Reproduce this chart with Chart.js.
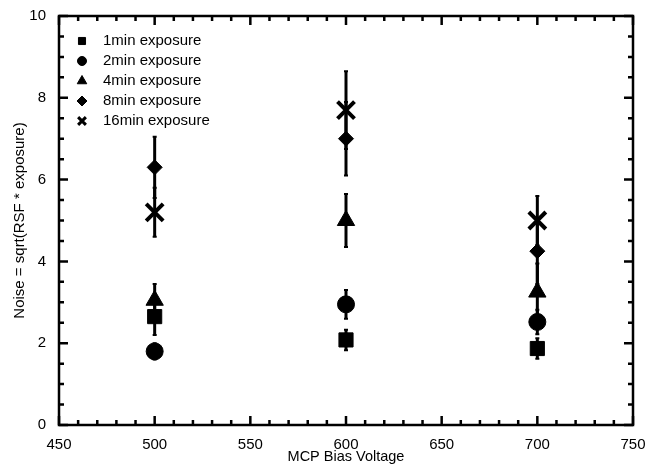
<!DOCTYPE html>
<html>
<head>
<meta charset="utf-8">
<script src="https://cdn.jsdelivr.net/npm/chart.js@4/dist/chart.umd.min.js"></script>
<style>
  html, body { margin: 0; padding: 0; background: #fff; }
  #wrap { width: 649px; height: 466px; }
</style>
</head>
<body>
<div id="wrap"><canvas id="noiseChart"></canvas></div>
<script>
const voltages = [500, 600, 700];
const seriesNames = ["1min exposure", "2min exposure", "4min exposure", "8min exposure", "16min exposure"];
const noise1 = [2.65, 2.08, 1.87];
const noise2 = [1.8, 2.95, 2.52];
const noise4 = [3.05, 5.0, 3.25];
const noise8 = [6.3, 7.0, 4.25];
const noise16 = [5.2, 7.7, 5.0];
const err1 = [0.45, 0.25, 0.25];
const err2 = [0.2, 0.35, 0.3];
const err4 = [0.4, 0.65, 0.7];
const err8 = [0.75, 0.9, 0.8];
const err16 = [0.6, 0.95, 0.6];

const FONT = "'Liberation Sans', Arial, sans-serif";
const styles = ["rect", "circle", "triangle", "rectRot", "crossRot"];
const radii = [10, 8.5, 10, 7.5, 12];
const legendRadii = [5, 4.5, 5.5, 5, 5.5];
const allNoise = [noise1, noise2, noise4, noise8, noise16];
const allErr = [err1, err2, err4, err8, err16];

const datasets = allNoise.map((vals, i) => ({
  label: seriesNames[i],
  data: voltages.map((v, j) => ({ x: v, y: vals[j] })),
  errors: allErr[i],
  pointStyle: styles[i],
  pointRadius: radii[i],
  pointHoverRadius: radii[i],
  backgroundColor: "#000",
  borderColor: "#000",
  borderWidth: i === 4 ? 4 : 1,
  showLine: false,
}));

const errorBars = {
  id: "errorBars",
  beforeDatasetsDraw(chart) {
    const ctx = chart.ctx;
    const x = chart.scales.x;
    const y = chart.scales.y;
    ctx.save();
    ctx.strokeStyle = "#000";
    chart.data.datasets.forEach((ds) => {
      ds.data.forEach((p, j) => {
        const px = x.getPixelForValue(p.x);
        const top = y.getPixelForValue(p.y + ds.errors[j]);
        const bot = y.getPixelForValue(p.y - ds.errors[j]);
        ctx.lineWidth = 3;
        ctx.beginPath();
        ctx.moveTo(px, top);
        ctx.lineTo(px, bot);
        ctx.stroke();
        ctx.lineWidth = 2;
        ctx.beginPath();
        ctx.moveTo(px - 2, top);
        ctx.lineTo(px + 2, top);
        ctx.moveTo(px - 2, bot);
        ctx.lineTo(px + 2, bot);
        ctx.stroke();
      });
    });
    ctx.restore();
  },
};

const frameTicks = {
  id: "frameTicks",
  afterDraw(chart) {
    const ctx = chart.ctx;
    const a = chart.chartArea;
    const x = chart.scales.x;
    const y = chart.scales.y;
    ctx.save();
    ctx.strokeStyle = "#000";
    ctx.lineWidth = 2.5;
    ctx.strokeRect(a.left, a.top, a.right - a.left, a.bottom - a.top);
    ctx.beginPath();
    for (let v = 450; v <= 750; v += 10) {
      const px = x.getPixelForValue(v);
      const len = v % 50 === 0 ? 9 : 5;
      ctx.moveTo(px, a.bottom);
      ctx.lineTo(px, a.bottom - len);
      ctx.moveTo(px, a.top);
      ctx.lineTo(px, a.top + len);
    }
    for (let v = 0; v <= 10; v += 0.5) {
      const py = y.getPixelForValue(v);
      const len = v % 2 === 0 ? 9 : 5;
      ctx.moveTo(a.left, py);
      ctx.lineTo(a.left + len, py);
      ctx.moveTo(a.right, py);
      ctx.lineTo(a.right - len, py);
    }
    ctx.stroke();

    // legend inside plot
    ctx.font = "15px " + FONT;
    ctx.textBaseline = "middle";
    chart.data.datasets.forEach((ds, i) => {
      const ly = 41 + i * 20;
      ctx.fillStyle = "#000";
      ctx.strokeStyle = "#000";
      ctx.lineWidth = i === 4 ? 3 : 1;
      Chart.helpers.drawPoint(ctx, {
        pointStyle: ds.pointStyle,
        radius: legendRadii[i],
        borderWidth: i === 4 ? 3 : 1,
      }, 82, ly);
      ctx.fillStyle = "#000";
      ctx.fillText(ds.label, 103, ly);
    });
    ctx.restore();
  },
};

new Chart(document.getElementById("noiseChart"), {
  type: "scatter",
  data: { datasets },
  options: {
    responsive: true,
    maintainAspectRatio: false,
    animation: false,
    layout: { padding: { top: 8, right: 13, left: 11, bottom: 0 } },
    plugins: {
      legend: { display: false },
      tooltip: { enabled: false },
    },
    scales: {
      x: {
        type: "linear",
        min: 450,
        max: 750,
        grid: { display: false },
        border: { display: false },
        ticks: {
          stepSize: 50,
          color: "#000",
          padding: 3,
          maxRotation: 0,
          font: { size: 15, family: FONT },
        },
        title: {
          display: true,
          text: "MCP Bias Voltage",
          color: "#000",
          padding: { top: 0, bottom: 0 },
          font: { size: 14.5, family: FONT },
        },
        afterFit: (s) => { s.height = 41; },
      },
      y: {
        min: 0,
        max: 10,
        grid: { display: false },
        border: { display: false },
        ticks: {
          stepSize: 2,
          color: "#000",
          padding: 5,
          font: { size: 15, family: FONT },
        },
        title: {
          display: true,
          text: "Noise = sqrt(RSF * exposure)",
          color: "#000",
          padding: { top: 0, bottom: 0 },
          font: { size: 15, family: FONT },
        },
        afterFit: (s) => { s.width = 48; },
      },
    },
  },
  plugins: [errorBars, frameTicks],
});
</script>
</body>
</html>
